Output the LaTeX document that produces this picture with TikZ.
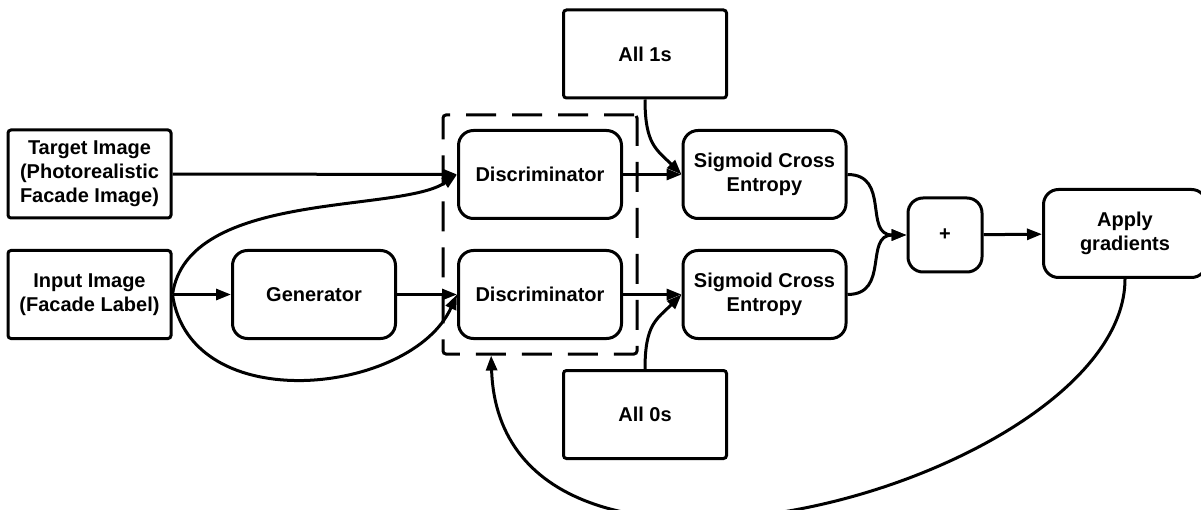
\documentclass[tikz,border=0pt]{standalone}
\usepackage{fontspec}
\setmainfont{Liberation Sans}
\usetikzlibrary{arrows.meta,positioning,fit}
\tikzset{
  block/.style={draw, line width=3pt, align=center, minimum width=163pt, minimum height=88pt, rounded corners=3pt, font=\bfseries\fontsize{20}{24}\selectfont},
  op/.style={block, rounded corners=15pt},
  dashgroup/.style={draw, line width=3pt, dash pattern=on 30pt off 16pt, rounded corners=3pt, inner sep=14pt},
  flow/.style={-{Triangle[length=15pt,width=11pt]}, line width=3pt},
}
\begin{document}
\begin{tikzpicture}[x=1pt,y=1pt]
  \useasboundingbox (0,0) rectangle (1201,-510);
  \node[block] (target) at (89.5,-174) {Target Image\\(Photorealistic\\Facade Image)};
  \node[block] (input) at (89.5,-294.5) {Input Image\\(Facade Label)};
  \node[op] (gen) at (314,-294.5) {Generator};
  \node[op] (disc1) at (540,-174.5) {Discriminator};
  \node[op] (disc2) at (540,-294.5) {Discriminator};
  \node[dashgroup, fit=(disc1)(disc2)] (dgroup) {};
  \node[block] (ones) at (645,-54) {All 1s};
  \node[block] (zeros) at (645,-414.5) {All 0s};
  \node[op] (sig1) at (764.5,-174.5) {Sigmoid Cross\\Entropy};
  \node[op] (sig2) at (764.5,-294.5) {Sigmoid Cross\\Entropy};
  \node[op, minimum width=74pt, minimum height=74pt] (plus) at (945,-235) {+};
  \node[op] (apply) at (1125,-233.5) {Apply\\gradients};
  \draw[flow] (target) -- (disc1);
  \draw[flow] (input) -- (gen);
  \draw[flow] (gen) -- (disc2);
  \draw[flow] (input.east) .. controls +(15,105) and +(-57,-39) .. (disc1.west);
  \draw[flow] (input.east) .. controls +(18,-125) and +(-45,-100) .. (disc2.west);
  \draw[flow] (disc1) -- (sig1);
  \draw[flow] (disc2) -- (sig2);
  \draw[flow] (ones.south) .. controls +(0,-45) and +(-25,25) .. (sig1.west);
  \draw[flow] (zeros.north) .. controls +(0,45) and +(-25,-25) .. (sig2.west);
  \draw[flow] (sig1.east) to[out=0, in=180, looseness=1.3] (plus.west);
  \draw[flow] (sig2.east) to[out=0, in=180, looseness=1.3] (plus.west);
  \draw[flow] (plus) -- (apply);
  \draw[flow] (apply.south) .. controls +(0,-200) and +(10,-300) .. (dgroup.248);
\end{tikzpicture}
\end{document}
